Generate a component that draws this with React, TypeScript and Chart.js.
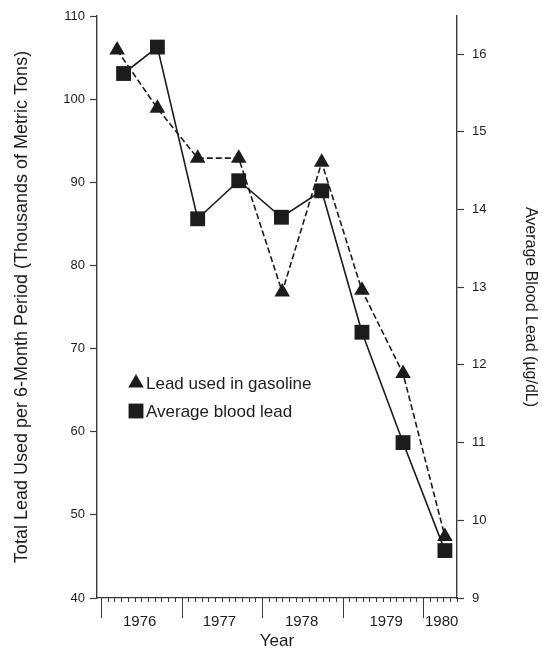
import { useEffect, useRef } from 'react';
import { Chart, registerables } from 'chart.js';
Chart.register(...registerables);

// Six-month periods (decimal year, centre of each plotted mark)
const gasolineTime = [1976.2, 1976.7, 1977.2, 1977.71, 1978.25, 1978.74, 1979.24, 1979.75, 1980.27];
const gasolineLead = [105.9, 98.9, 92.9, 92.9, 76.8, 92.4, 77.0, 67.0, 47.4];
const bloodTime = [1976.28, 1976.7, 1977.2, 1977.71, 1978.24, 1978.74, 1979.24, 1979.75, 1980.27];
const bloodLead = [15.75, 16.09, 13.88, 14.37, 13.9, 14.24, 12.42, 11.0, 9.61];

const yearLabels = ['1976', '1977', '1978', '1979', '1980'];
const yearLabelPositions = [1976.48, 1977.47, 1978.49, 1979.54, 1980.23];

const FONT = '"Liberation Sans", Arial, Helvetica, sans-serif';
const INK = '#1c1c1c';
const AXIS = '#3a3a3a';

const xTickPlugin = {
  id: 'xTicks',
  afterDraw(chart: any) {
    const xs = chart.scales.x;
    const ctx = chart.ctx;
    const y0 = chart.chartArea.bottom;
    ctx.save();
    ctx.strokeStyle = AXIS;
    ctx.lineWidth = 1;
    const start = Math.ceil(xs.min * 12);
    const end = Math.floor(xs.max * 12);
    for (let m = start; m <= end; m++) {
      const px = Math.round(xs.getPixelForValue(m / 12)) + 0.5;
      const len = m % 12 === 0 ? 20 : 4;
      ctx.beginPath();
      ctx.moveTo(px, y0);
      ctx.lineTo(px, y0 + len);
      ctx.stroke();
    }
    ctx.restore();
  },
};

const legendPlugin = {
  id: 'innerLegend',
  afterDraw(chart: any) {
    const ctx = chart.ctx;
    const { left, top } = chart.chartArea;
    const items = chart.data.datasets.map((d: any) => ({
      text: d.label,
      style: d.pointStyle,
      radius: d.pointRadius,
    }));
    ctx.save();
    ctx.font = `17px ${FONT}`;
    ctx.textBaseline = 'middle';
    items.forEach((it: any, i: number) => {
      const cx = left + 39;
      const cy = top + 367 + i * 28;
      ctx.fillStyle = INK;
      if (it.style === 'triangle') {
        const r = it.radius;
        ctx.beginPath();
        ctx.moveTo(cx, cy - r);
        ctx.lineTo(cx + r * 0.866, cy + r * 0.5);
        ctx.lineTo(cx - r * 0.866, cy + r * 0.5);
        ctx.closePath();
        ctx.fill();
      } else {
        const s = it.radius * Math.SQRT1_2;
        ctx.fillRect(cx - s, cy - s, 2 * s, 2 * s);
      }
      ctx.fillText(it.text, cx + 10, cy + 1);
    });
    ctx.restore();
  },
};

const bgPlugin = {
  id: 'bg',
  beforeDraw(chart: any) {
    const ctx = chart.ctx;
    ctx.save();
    ctx.fillStyle = '#ffffff';
    ctx.fillRect(0, 0, chart.width, chart.height);
    ctx.restore();
  },
};

export default function App() {
  const ref = useRef<HTMLCanvasElement | null>(null);

  useEffect(() => {
    document.body.style.margin = '0';
    const canvas = ref.current;
    if (!canvas) return;
    const chart = new Chart(canvas, {
      type: 'line',
      data: {
        datasets: [
          {
            label: 'Lead used in gasoline',
            data: gasolineTime.map((t, i) => ({ x: t, y: gasolineLead[i] })),
            yAxisID: 'y',
            borderColor: INK,
            backgroundColor: INK,
            borderWidth: 1.6,
            borderDash: [6, 3],
            pointStyle: 'triangle',
            pointRadius: 9,
            pointBorderWidth: 0,
            pointBackgroundColor: INK,
            tension: 0,
          },
          {
            label: 'Average blood lead',
            data: bloodTime.map((t, i) => ({ x: t, y: bloodLead[i] })),
            yAxisID: 'y1',
            borderColor: INK,
            backgroundColor: INK,
            borderWidth: 1.6,
            pointStyle: 'rect',
            pointRadius: 10.5,
            pointBorderWidth: 0,
            pointBackgroundColor: INK,
            tension: 0,
          },
        ],
      },
      options: {
        animation: false,
        responsive: false,
        maintainAspectRatio: false,
        layout: { padding: { top: 16, left: 0, right: 0, bottom: 0 } },
        plugins: {
          legend: { display: false },
          tooltip: { enabled: false },
        },
        scales: {
          x: {
            type: 'linear',
            min: 1975.95,
            max: 1980.42,
            afterFit: (s: any) => {
              s.height = 54;
            },
            afterBuildTicks: (s: any) => {
              s.ticks = yearLabelPositions.map((v) => ({ value: v }));
            },
            grid: { display: false, drawTicks: false },
            border: { display: true, color: AXIS, width: 1.2 },
            ticks: {
              autoSkip: false,
              maxRotation: 0,
              padding: 15,
              color: INK,
              font: { family: FONT, size: 15 },
              callback: (_v: any, i: number) => yearLabels[i],
            },
            title: {
              display: true,
              text: 'Year',
              color: INK,
              font: { family: FONT, size: 17 },
              padding: { top: 0, bottom: 0 },
            },
          },
          y: {
            type: 'linear',
            position: 'left',
            min: 40,
            max: 110,
            afterFit: (s: any) => {
              s.width = 97;
            },
            grid: { drawOnChartArea: false, drawTicks: true, tickLength: 7, color: AXIS, tickWidth: 1.2 },
            border: { display: true, color: AXIS, width: 1.4 },
            ticks: {
              stepSize: 10,
              padding: 5,
              color: INK,
              font: { family: FONT, size: 13 },
            },
            title: {
              display: true,
              text: 'Total Lead Used per 6-Month Period (Thousands of Metric Tons)',
              color: INK,
              font: { family: FONT, size: 18 },
              padding: { top: 11, bottom: 0 },
            },
          },
          y1: {
            type: 'linear',
            position: 'right',
            min: 9,
            max: 16.49,
            afterFit: (s: any) => {
              s.width = 85;
            },
            grid: { drawOnChartArea: false, drawTicks: true, tickLength: 7, color: AXIS, tickWidth: 1.2 },
            border: { display: true, color: AXIS, width: 1.4 },
            ticks: {
              stepSize: 1,
              includeBounds: false,
              padding: 8,
              color: INK,
              font: { family: FONT, size: 13 },
            },
            title: {
              display: true,
              text: 'Average Blood Lead (µg/dL)',
              color: INK,
              font: { family: FONT, size: 16 },
              padding: { top: 2, bottom: 0 },
            },
          },
        },
      },
      plugins: [bgPlugin, xTickPlugin, legendPlugin],
    } as any);
    return () => chart.destroy();
  }, []);

  return (
    <div style={{ width: 542, height: 652 }}>
      <canvas ref={ref} width={542} height={652} style={{ display: 'block', width: 542, height: 652 }} />
    </div>
  );
}
